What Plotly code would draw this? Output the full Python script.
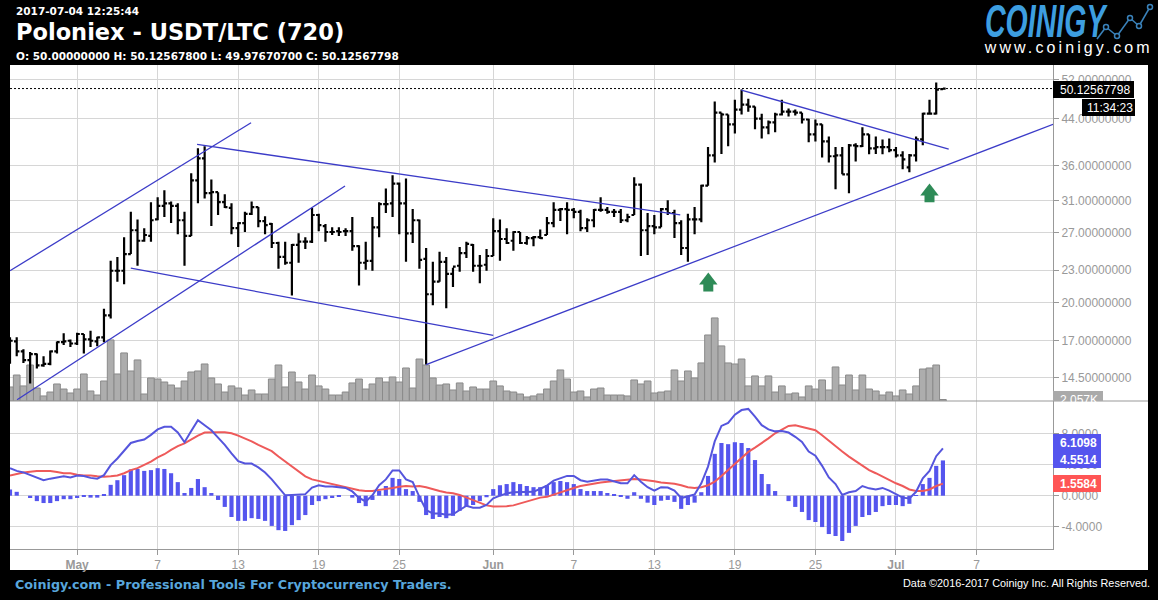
import math
import pandas as pd
import plotly.graph_objects as go

# 12h bars, USDT/LTC
dates = pd.date_range("2017-04-26", periods=140, freq="12h")

opens = [16.95, 16.95, 16.25, 15.65, 16.05, 15.3, 15.4, 16.25, 16.9, 17.0,
         16.8, 17.5, 17.1, 16.95, 17.25, 18.95, 22.95, 22.95, 24.65, 27.3,
         26.1, 26.65, 28.6, 30.3, 30.65, 30.3, 28.5, 26.65, 33.8, 37.15,
         32.0, 32.15, 30.8, 30.05, 27.55, 28.15, 29.3, 30.15, 28.4, 28.05,
         25.85, 24.35, 23.75, 25.65, 26.0, 26.0, 29.15, 27.8, 27.1, 27.2,
         27.2, 27.2, 25.5, 23.75, 23.95, 27.65, 30.55, 30.65, 33.35, 30.65,
         26.95, 28.5, 24.15, 20.75, 21.9, 23.85, 22.65, 23.45, 24.75, 25.65,
         23.45, 23.55, 24.45, 27.2, 26.3, 26.1, 27.1, 25.85, 26.4, 26.5,
         26.75, 28.15, 29.8, 29.9, 29.8, 29.55, 27.55, 28.5, 29.8, 29.8,
         29.55, 29.55, 28.5, 29.15, 33.2, 27.3, 27.8, 27.65, 29.9, 29.4,
         28.15, 25.3, 28.6, 28.6, 33.05, 37.65, 45.2, 44.85, 43.0, 45.8,
         46.8, 46.4, 44.05, 42.45, 43.35, 44.85, 45.4, 45.4, 45.2, 43.9,
         41.2, 43.0, 39.95, 37.5, 37.65, 34.7, 39.3, 39.15, 41.2, 38.8,
         39.0, 39.0, 38.5, 37.65, 35.75, 37.65, 40.3, 45.0, 45.0, 50.0]
highs = [17.25, 17.25, 16.4, 16.2, 16.1, 15.9, 16.3, 16.95, 17.55, 17.1,
         17.6, 17.5, 17.75, 17.3, 19.5, 23.95, 24.35, 26.5, 29.55, 28.6,
         27.55, 30.8, 31.45, 32.4, 30.9, 30.65, 29.55, 34.85, 38.8, 39.15,
         33.95, 32.15, 31.85, 30.65, 28.25, 29.55, 30.9, 30.15, 29.0, 28.15,
         26.0, 26.0, 25.75, 26.95, 26.5, 30.05, 29.3, 28.05, 27.65, 27.65,
         27.55, 28.9, 25.6, 26.0, 28.9, 30.8, 32.65, 34.55, 33.5, 34.1,
         29.9, 28.6, 25.3, 23.85, 24.9, 24.35, 23.25, 25.4, 26.0, 25.75,
         24.55, 25.2, 28.75, 28.6, 27.55, 27.2, 27.1, 26.65, 26.65, 27.4,
         28.9, 30.8, 30.05, 30.8, 30.05, 29.8, 28.75, 29.9, 31.45, 30.15,
         29.9, 29.9, 29.3, 34.25, 33.35, 29.4, 29.15, 30.05, 31.05, 29.8,
         28.5, 29.3, 30.15, 33.2, 39.0, 47.4, 45.2, 44.85, 47.8, 49.9,
         48.0, 46.4, 45.0, 43.7, 45.2, 47.8, 46.0, 45.8, 45.2, 44.05,
         43.9, 43.0, 40.8, 39.0, 39.0, 39.5, 39.65, 42.45, 41.2, 40.8,
         40.3, 40.45, 39.0, 38.3, 37.85, 40.8, 45.2, 47.8, 51.45, 50.12567800]
lows = [15.4, 15.9, 15.45, 14.15, 15.1, 15.2, 15.3, 16.1, 16.7, 16.55,
        16.7, 16.1, 16.55, 16.6, 16.9, 18.7, 21.9, 21.65, 24.65, 23.45,
        26.0, 26.0, 28.5, 28.9, 28.15, 26.85, 23.45, 26.65, 30.65, 31.3,
        27.8, 29.15, 30.05, 26.85, 25.4, 27.1, 29.15, 27.65, 26.85, 25.3,
        23.15, 23.55, 20.65, 23.75, 25.2, 25.85, 27.2, 26.0, 26.75, 26.65,
        26.65, 25.0, 21.55, 23.05, 22.95, 26.5, 29.4, 28.9, 26.85, 23.85,
        25.85, 23.15, 15.35, 19.8, 21.9, 19.55, 21.4, 22.85, 24.25, 22.85,
        21.75, 22.95, 24.45, 23.95, 25.75, 25.0, 25.75, 25.65, 25.5, 26.3,
        26.75, 27.65, 28.4, 26.85, 28.75, 27.2, 27.1, 27.65, 29.55, 29.3,
        28.9, 28.15, 28.25, 29.15, 24.45, 24.55, 26.85, 27.65, 29.15, 26.4,
        24.55, 23.85, 26.85, 28.25, 33.05, 36.5, 37.85, 39.15, 41.35, 44.85,
        45.4, 42.1, 40.45, 41.2, 41.55, 44.65, 44.45, 44.65, 43.15, 39.8,
        39.95, 37.3, 36.5, 32.55, 34.7, 32.0, 36.65, 39.0, 37.8, 37.85,
        37.8, 38.15, 37.3, 35.45, 35.0, 36.65, 39.3, 44.85, 44.85, 49.97670700]
closes = [17.0, 16.25, 15.65, 16.05, 15.3, 15.4, 16.25, 16.9, 16.95, 16.8,
          17.5, 17.1, 17.0, 17.25, 18.95, 22.95, 22.95, 24.65, 27.3, 26.1,
          26.75, 28.5, 30.3, 30.65, 30.3, 28.5, 26.65, 33.8, 37.15, 32.0,
          32.15, 30.8, 30.15, 27.55, 28.15, 29.3, 30.15, 28.4, 27.9, 25.85,
          24.35, 23.75, 25.65, 26.0, 26.0, 29.15, 27.9, 27.1, 27.1, 27.1,
          27.2, 25.5, 23.75, 23.95, 27.65, 30.55, 30.55, 33.35, 30.65, 26.95,
          28.5, 24.05, 20.75, 21.9, 23.85, 22.65, 23.35, 24.75, 25.75, 23.45,
          23.45, 24.45, 27.2, 26.3, 25.85, 27.1, 25.85, 26.4, 26.5, 26.4,
          28.15, 29.8, 29.9, 29.8, 29.55, 27.55, 28.5, 29.8, 29.8, 29.55,
          29.55, 28.5, 28.9, 33.2, 27.3, 27.8, 27.65, 29.9, 29.4, 28.15,
          25.3, 28.6, 28.6, 33.05, 37.65, 45.2, 44.85, 43.0, 45.8, 46.8,
          46.4, 44.05, 42.45, 43.35, 44.85, 45.4, 45.4, 45.2, 43.9, 41.2,
          43.0, 39.95, 37.5, 37.65, 34.7, 39.3, 39.15, 41.2, 38.8, 39.0,
          39.0, 38.5, 37.65, 37.0, 37.65, 40.3, 45.0, 45.0, 49.9, 50.12567798]

# volume in thousands
volumes = [19.2, 35.6, 20.6, 49.3, 17.8, 6.9, 12.3, 23.3, 16.4, 11.0,
           16.4, 37.0, 13.7, 8.2, 27.4, 83.6, 37.0, 65.8, 41.1, 56.2,
           9.6, 31.5, 30.1, 26.0, 21.9, 17.8, 27.4, 39.7, 41.1, 50.7,
           31.5, 23.3, 12.3, 20.6, 17.8, 8.2, 15.1, 9.6, 9.6, 30.1,
           49.3, 19.2, 39.7, 26.0, 16.4, 35.6, 20.6, 16.4, 8.2, 8.2,
           12.3, 24.7, 30.1, 16.4, 23.3, 31.5, 26.0, 32.9, 26.0, 45.2,
           17.8, 57.5, 49.3, 31.5, 21.9, 23.3, 15.1, 24.7, 13.7, 19.2,
           16.4, 16.4, 27.4, 20.6, 13.7, 12.3, 9.6, 5.5, 6.9, 9.6,
           16.4, 27.4, 42.5, 30.1, 12.3, 13.7, 5.5, 16.4, 17.8, 8.2,
           8.2, 8.2, 6.9, 28.8, 23.3, 27.4, 11.0, 12.3, 13.7, 42.5,
           27.4, 41.1, 31.5, 52.1, 90.4, 113.7, 75.4, 52.1, 50.7, 57.5,
           20.6, 34.3, 20.6, 34.3, 12.3, 20.6, 9.6, 11.0, 5.5, 20.6,
           16.4, 28.8, 15.1, 46.6, 21.9, 35.6, 15.1, 35.6, 16.4, 13.7,
           8.2, 12.3, 6.9, 15.1, 9.6, 20.6, 43.8, 45.2, 49.3, 2.057]

macd_hist = [0.8, 0.5, 0.0, -0.3, -0.7, -0.95, -0.95, -0.7, -0.45, -0.45,
             -0.3, -0.15, -0.25, -0.25, 0.2, 1.4, 2.0, 2.65, 3.4, 3.45,
             3.2, 3.3, 3.55, 3.45, 2.9, 1.75, 0.35, 1.0, 2.15, 1.1,
             0.35, -0.55, -1.45, -2.75, -3.25, -3.25, -2.9, -3.0, -3.25, -3.9,
             -4.45, -4.55, -3.8, -3.15, -2.5, -1.2, -0.7, -0.45, -0.3, -0.1,
             0.0, -0.25, -0.95, -1.35, -0.55, 0.65, 1.25, 2.3, 2.15, 0.85,
             0.6, -0.8, -2.5, -3.0, -2.75, -2.9, -2.6, -1.95, -1.35, -1.2,
             -0.7, -0.2, 0.85, 1.35, 1.5, 1.75, 1.5, 1.25, 1.1, 1.1,
             1.35, 1.75, 1.9, 1.75, 1.5, 0.85, 0.6, 0.6, 0.6, 0.35,
             0.2, -0.15, -0.4, 0.45, -0.4, -0.9, -1.2, -0.65, -0.55, -0.8,
             -1.7, -1.2, -0.9, 0.45, 2.55, 5.4, 6.8, 6.65, 6.9, 6.8,
             6.15, 4.6, 2.8, 1.5, 0.6, 0.0, -0.7, -1.45, -2.1, -3.15,
             -3.4, -4.05, -4.95, -5.2, -5.85, -4.8, -3.9, -2.75, -2.5, -2.1,
             -1.35, -1.2, -1.2, -1.35, -1.05, 0.05, 1.5, 2.3, 3.85, 4.5514]
macd_line = [3.55, 3.2, 3.0, 2.65, 2.3, 2.0, 2.2, 2.35, 2.5, 2.35,
             2.6, 2.55, 2.3, 2.2, 2.65, 3.95, 4.8, 5.8, 6.8, 7.05,
             7.25, 7.85, 8.55, 8.9, 8.9, 8.15, 6.9, 8.35, 9.75, 9.1,
             8.45, 7.5, 6.55, 5.45, 4.45, 4.15, 4.15, 3.65, 3.0, 2.1,
             1.05, 0.05, 0.1, 0.15, 0.2, 1.05, 1.35, 1.2, 1.2, 1.1,
             1.0, 0.55, -0.3, -0.75, 0.05, 1.35, 2.1, 3.25, 3.25, 2.1,
             1.75, -0.15, -1.85, -2.3, -2.3, -2.45, -2.4, -1.85, -1.3, -1.55,
             -1.55, -1.2, -0.35, 0.0, 0.3, 0.45, 0.45, 0.45, 0.5, 0.9,
             1.3, 1.95, 2.3, 2.55, 2.55, 2.0, 1.8, 1.95, 2.1, 2.1,
             1.9, 1.6, 1.6, 2.65, 1.8, 1.1, 0.65, 1.1, 1.05, 0.65,
             -0.3, -0.05, 0.15, 1.6, 3.75, 7.0, 9.0, 9.4, 10.45, 11.05,
             11.2, 10.2, 9.1, 8.55, 8.3, 8.35, 8.15, 7.6, 6.95, 5.7,
             5.15, 3.85, 2.35, 1.5, 0.1, 0.45, 0.6, 1.25, 0.95, 0.8,
             1.0, 0.65, 0.2, -0.25, -0.35, 0.5, 2.25, 3.2, 5.1, 6.1098]
macd_signal = [2.6, 2.8, 3.0, 3.1, 3.2, 3.2, 3.2, 3.05, 2.9, 2.9,
               2.7, 2.6, 2.6, 2.5, 2.45, 2.5, 2.6, 2.9, 3.3, 3.55,
               3.95, 4.4, 4.95, 5.35, 5.9, 6.4, 6.75, 7.3, 7.75, 8.15,
               8.2, 8.2, 8.2, 8.05, 7.75, 7.4, 7.0, 6.55, 6.2, 5.75,
               5.05, 4.4, 3.75, 3.1, 2.5, 2.1, 1.9, 1.65, 1.45, 1.25,
               1.1, 0.85, 0.7, 0.6, 0.6, 0.75, 0.85, 1.0, 1.15, 1.25,
               1.2, 1.25, 1.1, 0.8, 0.6, 0.4, 0.3, 0.1, -0.25, -0.55,
               -1.0, -1.25, -1.4, -1.4, -1.35, -1.25, -1.0, -0.75, -0.45, -0.25,
               -0.15, 0.15, 0.5, 0.8, 1.0, 1.25, 1.4, 1.6, 1.7, 1.8,
               1.9, 2.0, 2.1, 2.15, 2.1, 2.0, 1.85, 1.7, 1.6, 1.55,
               1.35, 1.1, 1.0, 1.1, 1.35, 1.8, 2.55, 3.3, 4.1, 4.85,
               5.65, 6.2, 6.75, 7.4, 8.05, 8.55, 9.0, 9.1, 8.9, 8.7,
               8.45, 7.8, 7.1, 6.3, 5.7, 5.05, 4.5, 3.95, 3.3, 2.9,
               2.45, 2.0, 1.6, 1.25, 0.8, 0.6, 0.6, 0.8, 1.25, 1.5584]

# hand drawn trend lines: (dates), (prices)
trend_lines = [
    (["2017-04-26 00:00", "2017-05-13 23:00"], [22.95, 43.3]),
    (["2017-04-26 12:40", "2017-05-20 23:00"], [13.2, 33.0]),
    (["2017-05-09 22:30", "2017-06-14 22:20"], [39.45, 29.15]),
    (["2017-05-05 00:00", "2017-06-01 00:00"], [23.2, 17.4]),
    (["2017-05-27 00:00", "2017-07-12 17:00"], [15.35, 43.0]),
    (["2017-06-19 11:30", "2017-07-04 22:20"], [49.8, 38.65]),
]
arrow_dates = ["2017-06-17 00:30", "2017-07-03 12:00"]
arrow_head_prices = [22.0, 32.25]
arrow_shaft_prices = [21.45, 31.45]

last_close = 50.12567798
price_ticks = [52, 44, 36, 31, 27, 23, 20, 17, 14.5]
macd_ticks = [8, 4, 0, -4]
date_ticks = ["2017-05-01", "2017-05-07", "2017-05-13", "2017-05-19", "2017-05-25",
              "2017-06-01", "2017-06-07", "2017-06-13", "2017-06-19", "2017-06-25",
              "2017-07-01", "2017-07-07"]
date_labels = ["<b>May</b>", "7", "13", "19", "25", "<b>Jun</b>", "7", "13", "19", "25",
               "<b>Jul</b>", "7"]
x_range = ["2017-04-26 00:00", "2017-07-12 16:48"]

BLUE = "#5555ee"
RED = "#ff5555"
GREY = "#999999"
GRID = "#d6d6d6"
TREND = "#3c3cc8"
TWELVE_HOURS = 12 * 3600 * 1000


# page pixels to paper coords, plot area is x 10..1053, y 65..549
def px(x):
    return (x - 10) / 1043


def py(y):
    return (549 - y) / 484


fig = go.Figure()

fig.add_trace(go.Bar(x=dates, y=volumes, width=TWELVE_HOURS, xaxis="x", yaxis="y",
                     marker=dict(color="#adadad", line=dict(color="#8a8a8a", width=1))))
for line_dates, line_prices in trend_lines:
    fig.add_trace(go.Scatter(x=line_dates, y=line_prices, mode="lines", yaxis="y3",
                             line=dict(color=TREND, width=1.3)))
fig.add_trace(go.Ohlc(x=dates, open=opens, high=highs, low=lows, close=closes, yaxis="y3",
                      tickwidth=0.4,
                      increasing=dict(line=dict(color="black", width=2.2)),
                      decreasing=dict(line=dict(color="black", width=2.2))))
fig.add_trace(go.Scatter(x=x_range, y=[last_close, last_close], mode="lines", yaxis="y3",
                         line=dict(color="black", width=1, dash="2px 2px")))
fig.add_trace(go.Scatter(x=arrow_dates, y=arrow_shaft_prices, mode="markers", yaxis="y3",
                         marker=dict(symbol="square", size=10, color="#2e8b57")))
fig.add_trace(go.Scatter(x=arrow_dates, y=arrow_head_prices, mode="markers", yaxis="y3",
                         marker=dict(symbol="triangle-up", size=16, color="#2e8b57")))

fig.add_trace(go.Bar(x=dates, y=macd_hist, width=TWELVE_HOURS * 0.62, yaxis="y2",
                     marker=dict(color=BLUE, line=dict(width=0))))
fig.add_trace(go.Scatter(x=dates, y=macd_signal, mode="lines", yaxis="y2",
                         line=dict(color="#ee5a5a", width=2)))
fig.add_trace(go.Scatter(x=dates, y=macd_line, mode="lines", yaxis="y2",
                         line=dict(color="#5555dd", width=2)))


def label(x, y, text, size, color="white", family="DejaVu Sans", anchor="left", **kw):
    return dict(xref="paper", yref="paper", x=px(x), y=py(y), text=text, showarrow=False,
                xanchor=anchor, yanchor="middle", font=dict(size=size, color=color, family=family),
                **kw)


def box(x0, y0, x1, y1, color):
    return dict(type="rect", xref="paper", yref="paper", x0=px(x0), x1=px(x1), y0=py(y0), y1=py(y1),
                fillcolor=color, line=dict(width=0))


annotations = [
    label(14, 11, "<b>2017-07-04 12:25:44</b>", 10.5),
    label(14, 32, "<b>Poloniex - USDT/LTC (720)</b>", 22.5),
    label(14, 56, "<b>O: 50.00000000 H: 50.12567800 L: 49.97670700 C: 50.12567798</b>", 10.5),
    label(13, 584, "<b>Coinigy.com - Professional Tools For Cryptocurrency Traders.</b>", 12.75,
          color="#58a6dc"),
    label(1152, 583, "Data ©2016-2017 Coinigy Inc. All Rights Reserved.", 10.9,
          family="Liberation Sans", anchor="right"),
    label(983, 21, "<b><i>COINIGY</i></b>", 46, color="#3d9ee0", family="Liberation Sans"),
    label(983, 48, "www.coinigy.com", 16, family="Liberation Sans"),
    label(1058, 89.5, "50.12567798", 12, family="Liberation Sans"),
    label(1085, 107.5, "11:34:23", 12, family="Liberation Sans"),
    label(1058, 442.5, "<b>6.1098</b>", 12, family="Liberation Sans"),
    label(1058, 460, "<b>4.5514</b>", 12, family="Liberation Sans"),
    label(1058, 483.5, "<b>1.5584</b>", 12, family="Liberation Sans"),
    # current volume tag, cut off by the pane edge like the original
    label(1058, 399.5, "2.057K", 12, family="Liberation Sans"),
    dict(xref="paper", yref="paper", x=px(1053.5), y=py(401.5), text=" ", showarrow=False,
         xanchor="left", yanchor="top", width=52, height=9, bgcolor="white", borderpad=0),
]

shapes = [
    dict(box(1053, 65, 1148, 570, "white"), layer="below"),
    dict(box(10, 549, 1148, 570, "white"), layer="below"),
    dict(type="line", xref="paper", yref="paper", x0=0, x1=px(1148), y0=py(401), y1=py(401),
         line=dict(color=GREY, width=1)),
    box(1053, 81, 1134, 98, "black"),
    box(1082, 99, 1135, 116, "black"),
    box(1053, 391, 1103, 401, "#aaaaaa"),
    box(1053, 434, 1101, 468, BLUE),
    box(1053, 475, 1101, 492, RED),
]

# logo chart squiggle
logo_x = [1097, 1106, 1117, 1130, 1139, 1150]
logo_y = [39, 27, 36, 18, 26, 7]
for i in range(len(logo_x) - 1):
    shapes.append(dict(type="line", xref="paper", yref="paper",
                       x0=px(logo_x[i]), y0=py(logo_y[i]), x1=px(logo_x[i + 1]), y1=py(logo_y[i + 1]),
                       line=dict(color="#3a82ba", width=1.5)))
for i in range(1, len(logo_x)):
    shapes.append(dict(type="circle", xref="paper", yref="paper",
                       x0=px(logo_x[i] - 2.5), x1=px(logo_x[i] + 2.5),
                       y0=py(logo_y[i] - 2.5), y1=py(logo_y[i] + 2.5),
                       fillcolor="black", line=dict(color="#3a82ba", width=1.5)))

axis_font = dict(family="Liberation Sans", size=12, color=GREY)
split = py(401)

fig.update_layout(
    width=1158,
    height=600,
    margin=dict(l=10, r=105, t=65, b=51, pad=0),
    paper_bgcolor="black",
    plot_bgcolor="white",
    showlegend=False,
    hovermode=False,
    barmode="overlay",
    font=axis_font,
    xaxis=dict(type="date", range=x_range, anchor="y2", tickmode="array", tickvals=date_ticks,
               ticktext=date_labels, tickangle=0, showgrid=True, gridcolor=GRID, zeroline=False,
               showline=True, linecolor=GREY, ticks="outside", ticklen=5, tickcolor=GREY,
               tickfont=axis_font, rangeslider=dict(visible=False)),
    # volume sits underneath the price bars
    yaxis=dict(domain=[split, 1], range=[0, 460], visible=False, fixedrange=True),
    yaxis3=dict(domain=[split, 1], overlaying="y", side="right", anchor="x", type="log",
                range=[math.log10(13.13), math.log10(55.45)], tickmode="array",
                tickvals=price_ticks, ticktext=[f"{v:.8f}" for v in price_ticks],
                showgrid=True, gridcolor=GRID, zeroline=False, showline=True, linecolor=GREY,
                ticks="outside", ticklen=5, tickcolor=GREY, tickfont=axis_font),
    yaxis2=dict(domain=[0, split], range=[-6.88, 12.22], side="right", anchor="x", tickmode="array",
                tickvals=macd_ticks, ticktext=[f"{v:.4f}" for v in macd_ticks],
                showgrid=True, gridcolor=GRID, zeroline=False, showline=True, linecolor=GREY,
                ticks="outside", ticklen=5, tickcolor=GREY, tickfont=axis_font),
    annotations=annotations,
    shapes=shapes,
)

# logo lettering is condensed and the url is spaced out, neither is a plotly font option
post_js = """
document.body.style.margin = '0';
document.querySelectorAll('.annotation-text').forEach(function (el) {
  if (el.textContent === 'COINIGY') {
    var b = el.getBBox();
    el.setAttribute('transform', 'translate(' + b.x + ',0) scale(0.62,1) translate(' + (-b.x) + ',0)');
  }
  if (el.textContent === 'www.coinigy.com') {
    el.style.letterSpacing = '3.1px';
    el.setAttribute('transform', 'translate(22,0)');
  }
});
"""
fig.write_html("out.html", post_script=post_js, config={"displayModeBar": False})
